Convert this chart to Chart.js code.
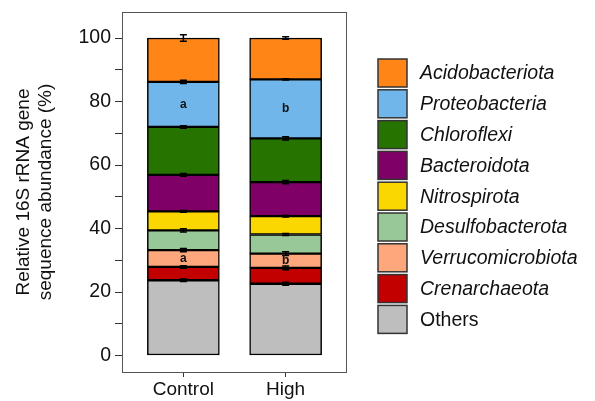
<!DOCTYPE html>
<html>
<head>
<meta charset="utf-8">
<script src="https://cdn.jsdelivr.net/npm/chart.js@4/dist/chart.umd.min.js"></script>
<style>
  html, body { margin: 0; padding: 0; background: #fff; }
  #wrap { width: 595px; height: 401px; }
</style>
</head>
<body>
<div id="wrap"><canvas id="chart" width="595" height="401"></canvas></div>
<script>
// ---- data (stack order: bottom -> top) ----
const GROUPS = ['Control', 'High'];
const GROUP_X = [1, 2];
const PHYLA = ['Others', 'Crenarchaeota', 'Verrucomicrobiota', 'Desulfobacterota', 'Nitrospirota',
  'Bacteroidota', 'Chloroflexi', 'Proteobacteria', 'Acidobacteriota'];
const ITALIC = [false, true, true, true, true, true, true, true, true];
const COLORS = ['#BEBEBE', '#C20000', '#FFA77C', '#98C898', '#FAD700', '#7F0066', '#267300', '#70B6EA', '#FF8516'];

// relative abundance (%) per phylum, [Control, High]
const OTHERS = [23.7, 22.6];
const CREN = [4.2, 5.0];
const VERRU = [5.3, 4.5];
const DESULFO = [6.2, 6.0];
const NITRO = [6.0, 5.8];
const BACTERO = [11.5, 10.7];
const CHLORO = [15.1, 13.8];
const PROTEO = [14.2, 18.6];
const ACIDO = [13.8, 13.0];
const VALUES = [OTHERS, CREN, VERRU, DESULFO, NITRO, BACTERO, CHLORO, PROTEO, ACIDO];

// standard errors at top of each stacked segment
const ERR_OTHERS = [0.4, 0.5];
const ERR_CREN = [0.4, 0.6];
const ERR_VERRU = [0.5, 0.6];
const ERR_DESULFO = [0.5, 0.3];
const ERR_NITRO = [0.3, 0.3];
const ERR_BACTERO = [0.4, 0.5];
const ERR_CHLORO = [0.4, 0.5];
const ERR_PROTEO = [0.5, 0.2];
const ERR_ACIDO = [1.0, 0.4];
const ERRORS = [ERR_OTHERS, ERR_CREN, ERR_VERRU, ERR_DESULFO, ERR_NITRO, ERR_BACTERO, ERR_CHLORO, ERR_PROTEO, ERR_ACIDO];

// significance letters: [phylum, letter per group]
const LETTERS = [
  { phylum: 'Proteobacteria', labels: ['a', 'b'] },
  { phylum: 'Verrucomicrobiota', labels: ['a', 'b'] },
];

const Y_TICKS = [0, 10, 20, 30, 40, 50, 60, 70, 80, 90, 100];

const FONT = 'Liberation Sans, Arial, sans-serif';

const datasets = PHYLA.map((name, k) => ({
  label: name,
  data: GROUP_X.map((x, i) => ({ x, y: VALUES[k][i] })),
  backgroundColor: COLORS[k],
  borderColor: '#000',
  borderWidth: 1.5,
  borderSkipped: false,
  barThickness: 72,
}));

// top of each segment = cumulative sum
function cumTop(k, i) {
  let s = 0;
  for (let j = 0; j <= k; j++) s += VALUES[j][i];
  return s;
}

const extras = {
  id: 'extras',
  afterDatasetsDraw(chart) {
    const { ctx, chartArea: a, scales: { x, y } } = chart;
    ctx.save();
    // error bars
    ctx.strokeStyle = '#000';
    ctx.lineWidth = 1.5;
    PHYLA.forEach((_, k) => {
      GROUP_X.forEach((gx, i) => {
        const top = cumTop(k, i);
        const px = x.getPixelForValue(gx);
        const y1 = y.getPixelForValue(top + ERRORS[k][i]);
        const y2 = y.getPixelForValue(top - ERRORS[k][i]);
        ctx.beginPath();
        ctx.moveTo(px, y1); ctx.lineTo(px, y2);
        ctx.moveTo(px - 3.5, y1); ctx.lineTo(px + 3.5, y1);
        ctx.moveTo(px - 3.5, y2); ctx.lineTo(px + 3.5, y2);
        ctx.stroke();
      });
    });
    // letters
    ctx.fillStyle = '#111';
    ctx.font = 'bold 12px ' + FONT;
    ctx.textAlign = 'center';
    ctx.textBaseline = 'middle';
    LETTERS.forEach(l => {
      const k = PHYLA.indexOf(l.phylum);
      GROUP_X.forEach((gx, i) => {
        const mid = cumTop(k, i) - VALUES[k][i] / 2;
        ctx.fillText(l.labels[i], x.getPixelForValue(gx), y.getPixelForValue(mid));
      });
    });
    // panel border
    ctx.strokeStyle = '#555';
    ctx.lineWidth = 1;
    ctx.strokeRect(a.left + 0.5, a.top + 0.5, a.right - a.left - 1, a.bottom - a.top);
    ctx.restore();
  },
  afterDraw(chart) {
    const { ctx } = chart;
    ctx.save();
    const bx = 378, by = 59, bw = 29, bh = 28, step = 30.8;
    ctx.textAlign = 'left';
    ctx.textBaseline = 'middle';
    // legend from top (Acidobacteriota) to bottom (Others)
    for (let r = 0; r < PHYLA.length; r++) {
      const k = PHYLA.length - 1 - r;
      const top = by + r * step;
      ctx.fillStyle = COLORS[k];
      ctx.fillRect(bx, top, bw, bh);
      ctx.strokeStyle = '#333';
      ctx.lineWidth = 1.5;
      ctx.strokeRect(bx, top, bw, bh);
      ctx.fillStyle = '#111';
      ctx.font = (ITALIC[k] ? 'italic ' : '') + '19.5px ' + FONT;
      ctx.fillText(PHYLA[k], 420, top + bh / 2 + 1);
    }
    ctx.restore();
  }
};

new Chart(document.getElementById('chart'), {
  type: 'bar',
  data: { datasets },
  options: {
    responsive: false,
    animation: false,
    layout: { padding: { left: 0, top: 12, right: 248, bottom: 0 } },
    plugins: { legend: { display: false }, tooltip: { enabled: false } },
    scales: {
      x: {
        type: 'linear',
        stacked: true,
        offset: false,
        min: 0.4,
        max: 2.6,
        afterBuildTicks: s => { s.ticks = GROUP_X.map(v => ({ value: v })); },
        afterFit: s => { s.height = 29; s.paddingLeft = 0; s.paddingRight = 0; },
        ticks: {
          callback: v => GROUPS[GROUP_X.indexOf(v)] ?? '',
          color: '#111',
          font: { family: FONT, size: 19 },
          padding: 1,
          maxRotation: 0,
          autoSkip: false,
        },
        grid: { offset: false, drawOnChartArea: false, tickLength: 5, color: '#333', lineWidth: 1 },
        border: { display: false },
      },
      y: {
        stacked: true,
        min: -5.2,
        max: 108.2,
        afterBuildTicks: s => { s.ticks = Y_TICKS.map(v => ({ value: v })); },
        afterFit: s => { s.width = 122; s.paddingTop = 0; s.paddingBottom = 0; },
        ticks: {
          callback: v => (v % 20 === 0 ? String(v) : ''),
          color: '#111',
          font: { family: FONT, size: 19.5 },
          padding: 4,
          autoSkip: false,
        },
        grid: { drawOnChartArea: false, tickLength: 7, color: '#333', lineWidth: 1 },
        border: { display: false },
        title: {
          display: true,
          text: ['Relative 16S rRNA gene', 'sequence abundance (%)'],
          color: '#111',
          font: { family: FONT, size: 19, lineHeight: 1.2 },
          padding: { top: 12, bottom: 0 },
        },
      },
    },
  },
  plugins: [extras],
});
</script>
</body>
</html>
